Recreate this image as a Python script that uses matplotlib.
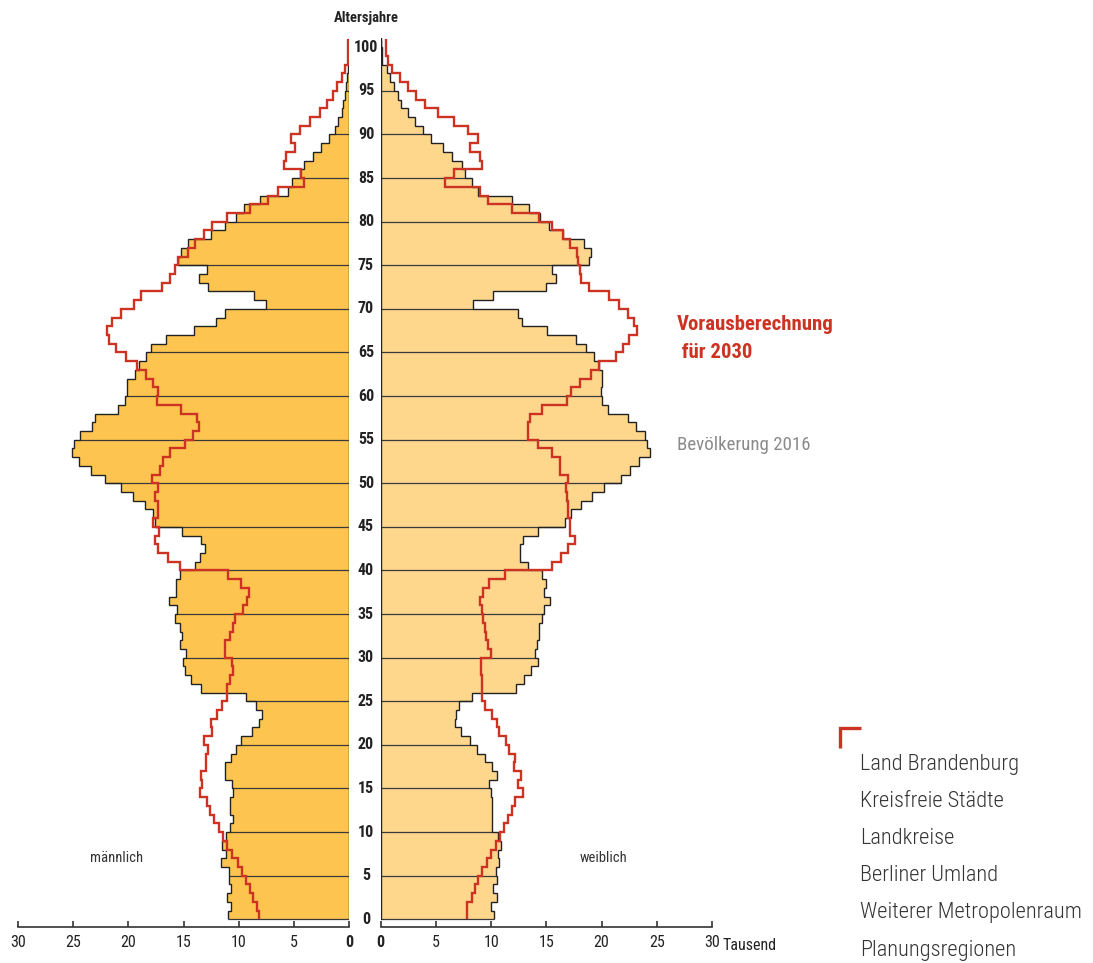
import os
import numpy as np
import matplotlib
matplotlib.use("Agg")
import matplotlib.pyplot as plt
import matplotlib.transforms as mtransforms
from matplotlib import font_manager
from matplotlib.font_manager import FontProperties
from matplotlib.lines import Line2D
from matplotlib.textpath import TextPath

# Altersjahre 0..100, Werte in Tausend
ages = np.arange(0, 101)

maenner_2016 = [
    10.95, 10.7, 11.05, 10.7, 10.9, 10.9, 11.6, 11.2, 11.5, 11.2,
    10.8, 10.5, 10.8, 10.8, 10.55, 10.65, 11.25, 11.25, 10.75, 10.3,
    9.8, 8.85, 8.2, 7.9, 8.45, 9.35, 13.45, 14.35, 14.9, 15.1,
    14.8, 15.35, 15.15, 15.3, 15.75, 15.6, 16.3, 15.7, 15.65, 15.3,
    14.0, 13.5, 13.1, 13.4, 15.15, 17.6, 17.8, 18.5, 19.55, 20.7,
    22.1, 23.4, 24.5, 25.1, 24.9, 24.4, 23.3, 23.0, 20.9, 20.3,
    20.1, 20.1, 19.4, 19.05, 18.4, 18.0, 16.6, 14.05, 12.05, 11.25,
    7.55, 8.6, 12.8, 13.65, 12.9, 15.5, 15.2, 14.6, 12.55, 11.3,
    10.3, 9.5, 8.1, 5.55, 5.15, 4.45, 4.1, 3.25, 2.6, 1.85,
    1.3, 1.05, 0.65, 0.55, 0.4, 0.3, 0.2, 0.15, 0.1, 0.05,
    0.03,
]
maenner_2030 = [
    8.2, 8.35, 8.75, 9.0, 9.35, 9.7, 10.1, 10.6, 11.05, 11.4,
    11.8, 12.25, 12.6, 12.85, 13.55, 13.3, 13.45, 13.0, 13.0, 12.8,
    13.15, 12.4, 12.5, 12.0, 11.5, 11.05, 11.1, 10.8, 10.55, 10.65,
    11.25, 11.25, 10.8, 10.55, 10.35, 9.6, 9.25, 9.1, 9.85, 11.0,
    15.35, 16.45, 17.3, 17.6, 17.25, 17.75, 17.3, 17.35, 17.6, 17.35,
    17.9, 17.1, 16.85, 16.25, 14.9, 14.15, 13.6, 13.75, 15.2, 17.4,
    17.3, 17.75, 18.45, 19.2, 20.25, 21.1, 21.75, 21.95, 21.45, 20.7,
    19.5, 18.9, 17.0, 16.25, 15.75, 15.5, 14.65, 14.0, 13.15, 12.4,
    11.05, 8.95, 7.35, 6.45, 4.1, 4.4, 5.9, 5.75, 4.9, 5.3,
    4.45, 3.55, 2.65, 2.0, 1.45, 1.15, 0.7, 0.4, 0.15, 0.15,
    0.15,
]
frauen_2016 = [
    10.3, 9.95, 10.5, 10.15, 10.5, 10.45, 10.75, 10.65, 10.85, 10.6,
    10.05, 10.05, 10.1, 10.05, 9.95, 9.8, 10.55, 10.05, 9.4, 8.75,
    8.05, 7.25, 6.75, 6.8, 7.05, 8.25, 12.25, 13.0, 13.6, 14.2,
    14.0, 14.15, 14.3, 14.35, 14.6, 14.8, 15.3, 14.75, 15.0, 14.6,
    13.3, 12.6, 12.6, 12.9, 14.2, 16.7, 17.2, 18.1, 19.15, 20.2,
    21.8, 22.6, 23.4, 24.4, 24.15, 23.9, 23.1, 22.35, 20.6, 20.05,
    19.95, 20.0, 20.0, 19.75, 19.3, 18.55, 17.65, 15.05, 12.8, 12.4,
    8.35, 10.15, 14.95, 15.9, 15.5, 18.9, 19.0, 18.45, 16.5, 15.2,
    14.4, 13.45, 11.85, 8.85, 8.25, 7.65, 7.4, 6.5, 5.6, 4.6,
    3.85, 3.15, 2.5, 1.8, 1.55, 1.2, 0.85, 0.55, 0.15, 0.1,
    0.03,
]
frauen_2030 = [
    7.8, 7.85, 8.25, 8.55, 8.85, 9.2, 9.6, 10.0, 10.4, 10.8,
    11.2, 11.55, 11.9, 12.15, 12.85, 12.4, 12.7, 12.05, 12.15, 11.65,
    11.35, 10.7, 10.55, 10.1, 9.4, 9.2, 9.2, 9.15, 9.1, 9.05,
    9.95, 9.7, 9.5, 9.4, 9.3, 9.15, 8.95, 9.3, 9.85, 11.3,
    15.55, 16.35, 17.0, 17.55, 17.15, 17.15, 17.0, 16.95, 16.85, 16.75,
    16.95, 16.25, 16.25, 15.55, 14.2, 13.35, 13.3, 13.5, 14.6, 16.9,
    17.25, 18.05, 19.0, 19.75, 21.3, 21.9, 22.5, 23.25, 22.9, 22.4,
    21.6, 20.7, 18.9, 18.15, 18.05, 17.9, 17.75, 17.15, 16.5, 15.55,
    14.35, 11.85, 9.75, 9.0, 5.8, 6.65, 9.15, 8.95, 8.1, 8.8,
    7.9, 6.65, 5.2, 4.0, 3.2, 2.5, 1.75, 1.0, 0.7, 0.5,
    0.5,
]

age_ticks = list(range(0, 101, 5))
x_ticks = [0, 5, 10, 15, 20, 25, 30]
legend_items = [
    "Land Brandenburg",
    "Kreisfreie Städte",
    "Landkreise",
    "Berliner Umland",
    "Weiterer Metropolenraum",
    "Planungsregionen",
]

RED = "#cc3322"
MALE = "#fdc54f"
FEMALE = "#fed68c"
W, H = 1093, 963


def _weight_num(w):
    if isinstance(w, str):
        return font_manager.weight_dict.get(w, 400)
    return int(w)


def find_narrow(target_weight):
    """Look for an installed condensed/narrow face; fall back to DejaVu Sans."""
    prefer = ["liberation", "roboto", "noto", "open", "lato", "dejavu"]
    best, best_score = None, None
    for f in font_manager.fontManager.ttflist:
        fn = os.path.basename(f.fname).lower()
        nm = f.name.lower()
        key = fn + " " + nm
        if not ("narrow" in key or "condensed" in key):
            continue
        if "italic" in key or "oblique" in key or "mono" in key or "cjk" in key:
            continue
        if "extracondensed" in key.replace(" ", "") or "ultracondensed" in key.replace(" ", ""):
            continue
        score = abs(_weight_num(f.weight) - target_weight)
        if "semicondensed" in key.replace(" ", ""):
            score += 150
        fam_rank = next((i for i, p in enumerate(prefer) if p in nm), len(prefer))
        score += fam_rank * 30
        if best_score is None or score < best_score:
            best, best_score = f.fname, score
    if best is None:
        return FontProperties(family="DejaVu Sans",
                              weight="bold" if target_weight >= 600 else "normal")
    return FontProperties(fname=best)


F_LIGHT = find_narrow(300)
F_REG = find_narrow(400)
F_BOLD = find_narrow(700)


def fp(base, size):
    p = base.copy()
    p.set_size(size)
    return p


def fit_size(s, base, target_px):
    tp = TextPath((0, 0), s, size=10, prop=base)
    w = tp.get_extents().width * 100 / 72
    return 10 * target_px / w if w > 0 else 10


def fx(px):
    return px / W


def fy(py):
    return 1 - py / H


fig = plt.figure(figsize=(W / 100, H / 100), dpi=100)
ax_bottom, ax_top = 926.7, 38.0
ylo = -(ax_bottom - 919.3) / 8.72
yhi = ylo + (ax_bottom - ax_top) / 8.72

axL = fig.add_axes([fx(18), fy(ax_bottom), (349.3 - 18) / W, (ax_bottom - ax_top) / H])
axR = fig.add_axes([fx(380.7), fy(ax_bottom), (712 - 380.7) / W, (ax_bottom - ax_top) / H])
edges = np.arange(0, 102)

tick_size = 11.5
age_size = 11.5

for ax, v16, v30, fill in [(axL, maenner_2016, maenner_2030, MALE),
                           (axR, frauen_2016, frauen_2030, FEMALE)]:
    ax.stairs(v16, edges, orientation="horizontal", baseline=0, fill=True,
              color=fill, lw=0, zorder=1)
    for a in age_ticks:
        ax.plot([0, v16[a]], [a, a], color="#3a3a3a", lw=0.9, zorder=2,
                solid_capstyle="butt")
    ax.stairs(v16, edges, orientation="horizontal", baseline=None,
              color="#222222", lw=1.0, zorder=3)
    ax.stairs(v30, edges, orientation="horizontal", baseline=None,
              color=RED, lw=1.7, zorder=4)
    ax.plot([0, 0], [0, 101.2], color="#222222", lw=1.0, zorder=3)
    ax.set_ylim(ylo, yhi)
    ax.set_yticks([])
    for s in ["top", "left", "right"]:
        ax.spines[s].set_visible(False)
    ax.spines["bottom"].set_color("#333333")
    ax.spines["bottom"].set_linewidth(1.2)
    ax.set_xticks(x_ticks)
    ax.set_xticklabels([str(t) for t in x_ticks])
    ax.tick_params(axis="x", direction="in", length=4, width=1.2,
                   color="#333333", pad=6, labelcolor="#222222")
    for lab in ax.get_xticklabels():
        if lab.get_text() == "0":
            lab.set_fontproperties(fp(F_BOLD, tick_size))
        else:
            lab.set_fontproperties(fp(F_REG, tick_size))
    ax.patch.set_visible(False)

axL.set_xlim(30, 0)
axR.set_xlim(0, 30)

# Altersjahre labels between the halves
trans = mtransforms.blended_transform_factory(fig.transFigure, axL.transData)
for a in age_ticks:
    fig.text(fx(366), a, str(a), transform=trans, ha="center", va="center",
             fontproperties=fp(F_BOLD, age_size), color="#222222")

fig.text(fx(366), fy(18), "Altersjahre", ha="center", va="center",
         fontproperties=fp(F_BOLD, 10.5), color="#222222")
fig.text(fx(722), fy(945), "Tausend", ha="left", va="center",
         fontproperties=fp(F_REG, tick_size), color="#222222")
fig.text(fx(117), fy(858), "männlich", ha="center", va="center",
         fontproperties=fp(F_REG, 10.5), color="#333333")
fig.text(fx(604), fy(858), "weiblich", ha="center", va="center",
         fontproperties=fp(F_REG, 10.5), color="#333333")

red_size = min(16, fit_size("Vorausberechnung", F_BOLD, 155))
fig.text(fx(677), fy(324), "Vorausberechnung", ha="left", va="center",
         fontproperties=fp(F_BOLD, red_size), color=RED)
fig.text(fx(677), fy(352), " für 2030", ha="left", va="center",
         fontproperties=fp(F_BOLD, red_size), color=RED)
fig.text(fx(677), fy(445), "Bevölkerung 2016", ha="left", va="center",
         fontproperties=fp(F_REG, min(15, fit_size("Bevölkerung 2016", F_REG, 131))),
         color="#8a8a8a")

# legend corner mark + list
fig.add_artist(Line2D([fx(840), fx(840), fx(861)], [fy(748.3), fy(727.7), fy(727.7)],
                      transform=fig.transFigure, color=RED, lw=2.4,
                      solid_joinstyle="miter", solid_capstyle="butt"))
leg_size = min(18, fit_size("Weiterer Metropolenraum", F_LIGHT, 220))
for i, t in enumerate(legend_items):
    fig.text(fx(860), fy(770 + 37.1 * i), t, ha="left", va="baseline",
             fontproperties=fp(F_LIGHT, leg_size), color="#333333")

fig.savefig("out.png", dpi=100)
